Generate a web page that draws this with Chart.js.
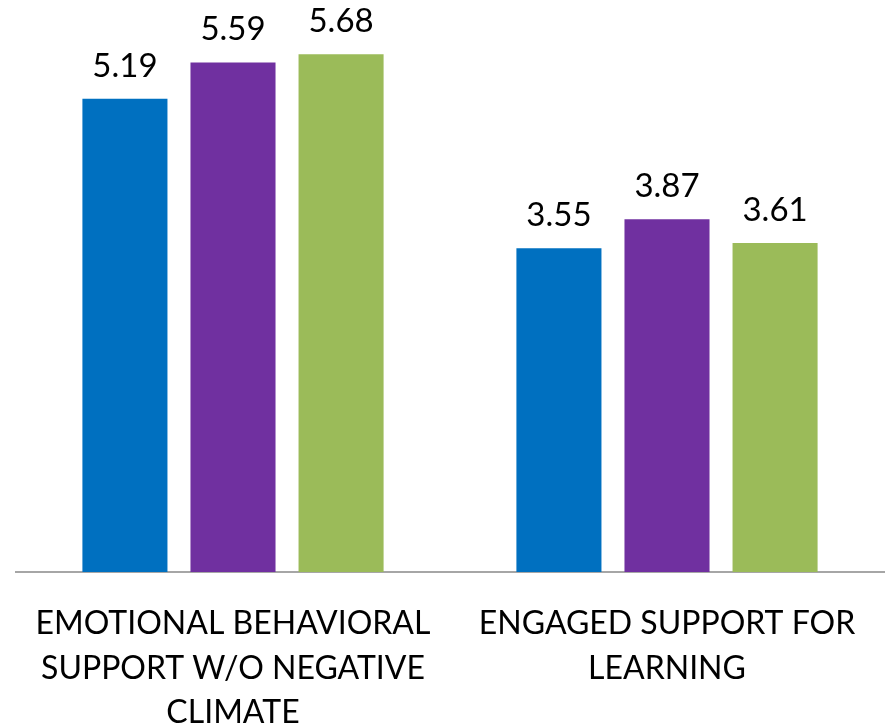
<!DOCTYPE html>
<html>
<head>
<meta charset="utf-8">
<script src="https://cdn.jsdelivr.net/npm/chart.js@4"></script>
<style>
  html, body { margin: 0; padding: 0; background: #fff; }
  #wrap { width: 885px; height: 727px; }
</style>
</head>
<body>
<div id="wrap"><canvas id="grafico"></canvas></div>
<script>
const categorias = [
    ['EMOTIONAL BEHAVIORAL', 'SUPPORT W/O NEGATIVE', 'CLIMATE'],
    ['ENGAGED SUPPORT FOR', 'LEARNING']
];
const serieAzul = [5.19, 3.55];
const serieMorada = [5.59, 3.87];
const serieVerde = [5.68, 3.61];

const fuente = 'Lato, "Open Sans", sans-serif';

// etiquetas de valor encima de cada barra
const etiquetasValor = {
    id: 'etiquetasValor',
    afterDatasetsDraw(chart) {
        const ctx = chart.ctx;
        ctx.save();
        ctx.font = '33px ' + fuente;
        ctx.fillStyle = '#000';
        ctx.textAlign = 'center';
        ctx.textBaseline = 'alphabetic';
        chart.data.datasets.forEach((ds, i) => {
            chart.getDatasetMeta(i).data.forEach((bar, j) => {
                ctx.fillText(ds.data[j].toFixed(2), bar.x, bar.y - 22);
            });
        });
        ctx.restore();
    }
};

new Chart(document.getElementById('grafico'), {
    type: 'bar',
    data: {
        labels: categorias,
        datasets: [
            { label: 'Serie 1', data: serieAzul, backgroundColor: '#0070C0' },
            { label: 'Serie 2', data: serieMorada, backgroundColor: '#7030A0' },
            { label: 'Serie 3', data: serieVerde, backgroundColor: '#9BBB59' }
        ]
    },
    options: {
        responsive: true,
        maintainAspectRatio: false,
        animation: false,
        events: [],
        categoryPercentage: 0.747,
        barPercentage: 0.787,
        layout: { padding: { left: 16, right: 1, top: 25, bottom: 0 } },
        plugins: {
            legend: { display: false },
            tooltip: { enabled: false }
        },
        scales: {
            x: {
                grid: { display: false },
                border: { display: true, color: '#a6a6a6', width: 2 },
                ticks: {
                    color: '#000',
                    font: { family: fuente, size: 32, lineHeight: 1.38 },
                    padding: 22,
                    maxRotation: 0,
                    autoSkip: false
                },
                afterFit(scale) { scale.height = 155; }
            },
            y: {
                display: false,
                min: 0,
                max: 6
            }
        }
    },
    plugins: [etiquetasValor]
});
</script>
</body>
</html>
